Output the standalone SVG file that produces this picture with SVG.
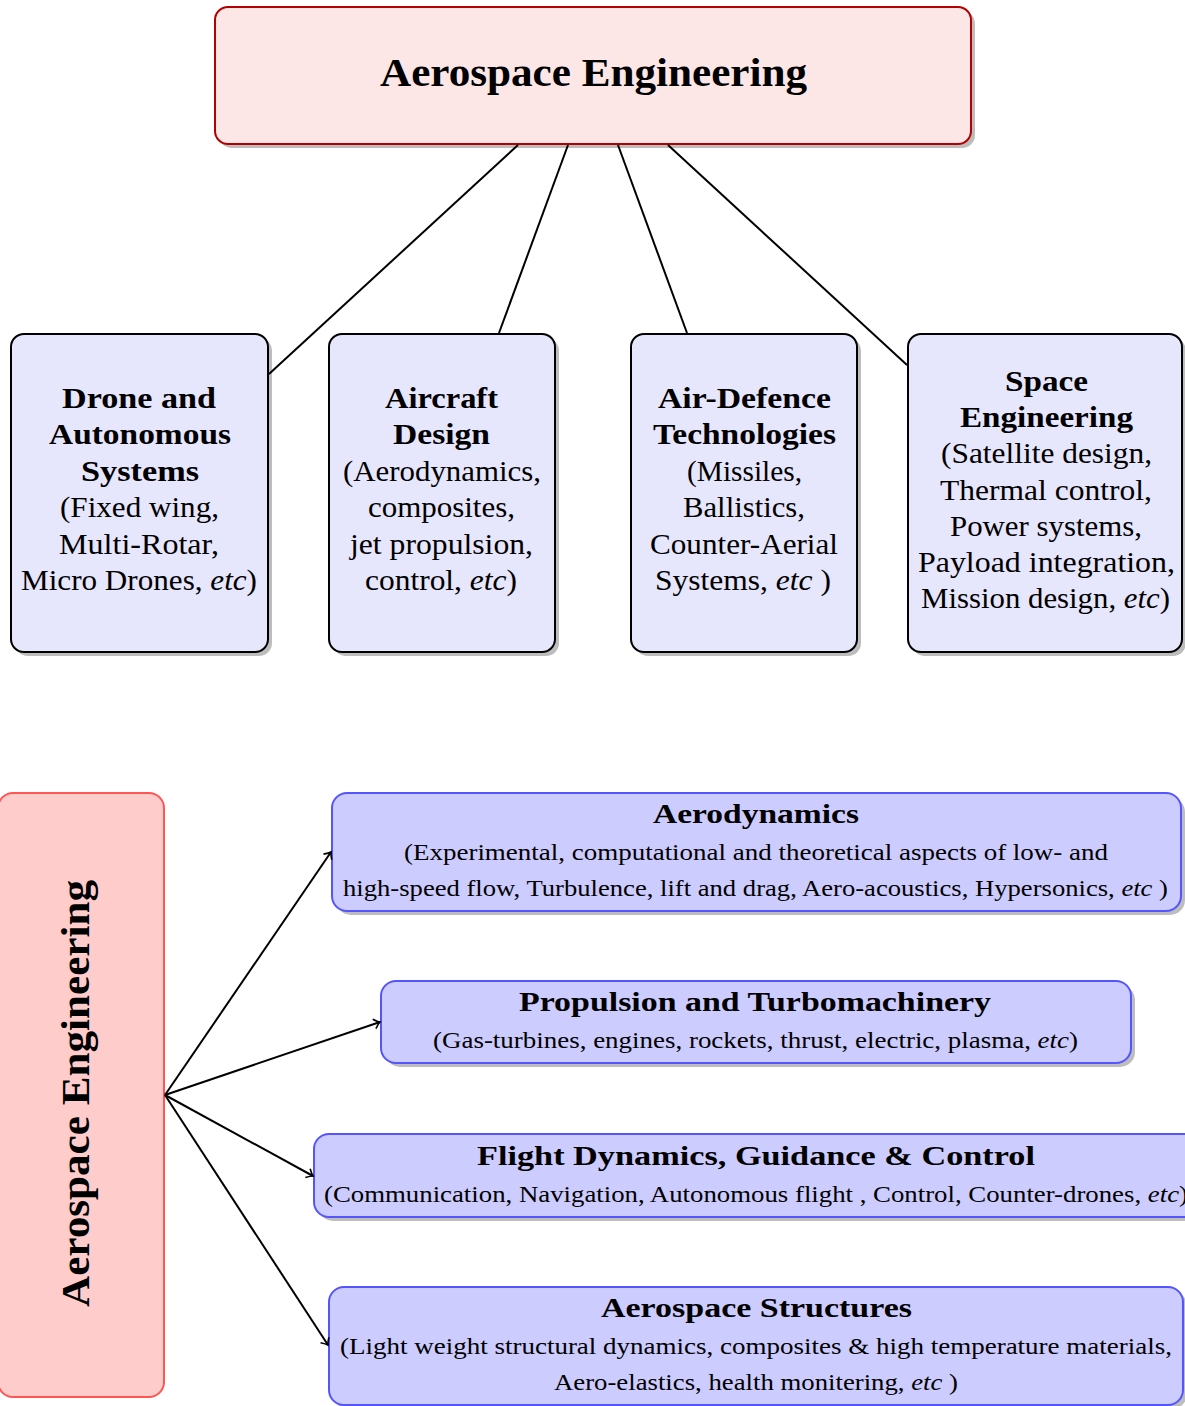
<svg xmlns="http://www.w3.org/2000/svg" width="1185" height="1406" viewBox="0 0 1185 1406">
<style>
text{font-family:"Liberation Serif","Times New Roman",serif;fill:#000;text-anchor:middle}
.b{font-weight:bold}
.i{font-style:italic}
.t1{font-size:41px}
.mid{font-size:29px}
.bt{font-size:27px}
.bs{font-size:23px}
.sh{fill:#bdbdbd}
.top{fill:#fde6e6;stroke:#b30000;stroke-width:2}
.mbox{fill:#e6e6fd;stroke:#000;stroke-width:2}
.red{fill:#ffcccc;stroke:#ff5555;stroke-width:2}
.blue{fill:#ccccff;stroke:#5555ff;stroke-width:2}
.c{stroke:#000;stroke-width:2;fill:none}
</style>
<defs>
<marker id="ar" markerWidth="12" markerHeight="12" refX="0" refY="0" viewBox="-7 -6 9 12" markerUnits="userSpaceOnUse" orient="auto">
<path d="M-6,-5 Q-2,-1 0,0 Q-2,1 -6,5" fill="none" stroke="#000" stroke-width="1.6"/>
</marker>
</defs>
<rect width="1185" height="1406" fill="#fff"/>
<g id="top">
<rect class="sh" x="219" y="11" width="756" height="137" rx="13"/>
<rect class="top" x="215" y="7" width="756" height="137" rx="13"/>
<text class="b t1" x="593.5" y="86" textLength="427" lengthAdjust="spacingAndGlyphs">Aerospace Engineering</text>
</g>
<g id="drone">
<rect class="sh" x="15" y="338" width="257" height="318" rx="13"/>
<rect class="mbox" x="11" y="334" width="257" height="318" rx="13"/>
<text class="b mid" x="139" y="408" textLength="154" lengthAdjust="spacingAndGlyphs">Drone and</text>
<text class="b mid" x="140" y="444" textLength="182" lengthAdjust="spacingAndGlyphs">Autonomous</text>
<text class="b mid" x="140" y="481" textLength="118" lengthAdjust="spacingAndGlyphs">Systems</text>
<text class="mid" x="139.5" y="517" textLength="159" lengthAdjust="spacingAndGlyphs">(Fixed wing,</text>
<text class="mid" x="139" y="554" textLength="160" lengthAdjust="spacingAndGlyphs">Multi-Rotar,</text>
<text class="mid" x="139" y="590" textLength="236" lengthAdjust="spacingAndGlyphs">Micro Drones, <tspan class="i">etc</tspan>)</text>
</g>
<g id="aircraft">
<rect class="sh" x="333" y="338" width="226" height="318" rx="13"/>
<rect class="mbox" x="329" y="334" width="226" height="318" rx="13"/>
<text class="b mid" x="441.5" y="408" textLength="113" lengthAdjust="spacingAndGlyphs">Aircraft</text>
<text class="b mid" x="441.5" y="444" textLength="97" lengthAdjust="spacingAndGlyphs">Design</text>
<text class="mid" x="442" y="481" textLength="198" lengthAdjust="spacingAndGlyphs">(Aerodynamics,</text>
<text class="mid" x="441.5" y="517" textLength="147" lengthAdjust="spacingAndGlyphs">composites,</text>
<text class="mid" x="441.5" y="554" textLength="183" lengthAdjust="spacingAndGlyphs">jet propulsion,</text>
<text class="mid" x="441" y="590" textLength="152" lengthAdjust="spacingAndGlyphs">control, <tspan class="i">etc</tspan>)</text>
</g>
<g id="airdefence">
<rect class="sh" x="635" y="338" width="226" height="318" rx="13"/>
<rect class="mbox" x="631" y="334" width="226" height="318" rx="13"/>
<text class="b mid" x="744.5" y="408" textLength="173" lengthAdjust="spacingAndGlyphs">Air-Defence</text>
<text class="b mid" x="744.5" y="444" textLength="183" lengthAdjust="spacingAndGlyphs">Technologies</text>
<text class="mid" x="744.5" y="481" textLength="115" lengthAdjust="spacingAndGlyphs">(Missiles,</text>
<text class="mid" x="744" y="517" textLength="122" lengthAdjust="spacingAndGlyphs">Ballistics,</text>
<text class="mid" x="744" y="554" textLength="188" lengthAdjust="spacingAndGlyphs">Counter-Aerial</text>
<text class="mid" x="743" y="590" textLength="176" lengthAdjust="spacingAndGlyphs">Systems, <tspan class="i">etc</tspan> )</text>
</g>
<g id="space">
<rect class="sh" x="912" y="338" width="274" height="318" rx="13"/>
<rect class="mbox" x="908" y="334" width="274" height="318" rx="13"/>
<text class="b mid" x="1046.5" y="391" textLength="83" lengthAdjust="spacingAndGlyphs">Space</text>
<text class="b mid" x="1046.5" y="427" textLength="173" lengthAdjust="spacingAndGlyphs">Engineering</text>
<text class="mid" x="1046.5" y="463" textLength="211" lengthAdjust="spacingAndGlyphs">(Satellite design,</text>
<text class="mid" x="1046" y="500" textLength="212" lengthAdjust="spacingAndGlyphs">Thermal control,</text>
<text class="mid" x="1046" y="536" textLength="192" lengthAdjust="spacingAndGlyphs">Power systems,</text>
<text class="mid" x="1046.5" y="572" textLength="257" lengthAdjust="spacingAndGlyphs">Payload integration,</text>
<text class="mid" x="1045.5" y="608" textLength="249" lengthAdjust="spacingAndGlyphs">Mission design, <tspan class="i">etc</tspan>)</text>
</g>
<g id="root2">
<rect class="red" x="-2" y="793" width="166" height="604" rx="15"/>
<text class="b t1" transform="translate(89,1093.5) rotate(-90)" x="0" y="0" textLength="427" lengthAdjust="spacingAndGlyphs">Aerospace Engineering</text>
</g>
<g id="aerodynamics">
<rect class="sh" x="336" y="797" width="849" height="118" rx="15"/>
<rect class="blue" x="332" y="793" width="849" height="118" rx="15"/>
<text class="b bt" x="756" y="823" textLength="206" lengthAdjust="spacingAndGlyphs">Aerodynamics</text>
<text class="bs" x="756" y="860" textLength="704" lengthAdjust="spacingAndGlyphs">(Experimental, computational and theoretical aspects of low- and</text>
<text class="bs" x="755.5" y="896" textLength="825" lengthAdjust="spacingAndGlyphs">high-speed flow, Turbulence, lift and drag, Aero-acoustics, Hypersonics, <tspan class="i">etc</tspan> )</text>
</g>
<g id="propulsion">
<rect class="sh" x="385" y="985" width="750" height="82" rx="15"/>
<rect class="blue" x="381" y="981" width="750" height="82" rx="15"/>
<text class="b bt" x="755" y="1011" textLength="472" lengthAdjust="spacingAndGlyphs">Propulsion and Turbomachinery</text>
<text class="bs" x="755.5" y="1048" textLength="645" lengthAdjust="spacingAndGlyphs">(Gas-turbines, engines, rockets, thrust, electric, plasma, <tspan class="i">etc</tspan>)</text>
</g>
<g id="flight">
<rect class="sh" x="318" y="1138" width="890" height="83" rx="15"/>
<rect class="blue" x="314" y="1134" width="890" height="83" rx="15"/>
<text class="b bt" x="756" y="1165" textLength="558" lengthAdjust="spacingAndGlyphs">Flight Dynamics, Guidance &amp; Control</text>
<text class="bs" x="756" y="1202" textLength="864" lengthAdjust="spacingAndGlyphs">(Communication, Navigation, Autonomous flight , Control, Counter-drones, <tspan class="i">etc</tspan>)</text>
</g>
<g id="structures">
<rect class="sh" x="333" y="1291" width="854" height="118" rx="15"/>
<rect class="blue" x="329" y="1287" width="854" height="118" rx="15"/>
<text class="b bt" x="756.5" y="1317" textLength="311" lengthAdjust="spacingAndGlyphs">Aerospace Structures</text>
<text class="bs" x="756" y="1354" textLength="832" lengthAdjust="spacingAndGlyphs">(Light weight structural dynamics, composites &amp; high temperature materials,</text>
<text class="bs" x="756" y="1390" textLength="404" lengthAdjust="spacingAndGlyphs">Aero-elastics, health monitering, <tspan class="i">etc</tspan> )</text>
</g>
<g id="connectors">
<line class="c" x1="518" y1="145" x2="269" y2="374"/>
<line class="c" x1="568" y1="145" x2="499" y2="333"/>
<line class="c" x1="618" y1="145" x2="687" y2="333"/>
<line class="c" x1="668" y1="145" x2="907" y2="365"/>
<line class="c" x1="165" y1="1095" x2="331" y2="852" marker-end="url(#ar)"/>
<line class="c" x1="165" y1="1095" x2="380" y2="1022" marker-end="url(#ar)"/>
<line class="c" x1="165" y1="1095" x2="313" y2="1176" marker-end="url(#ar)"/>
<line class="c" x1="165" y1="1095" x2="328" y2="1345" marker-end="url(#ar)"/>
</g>
</svg>
